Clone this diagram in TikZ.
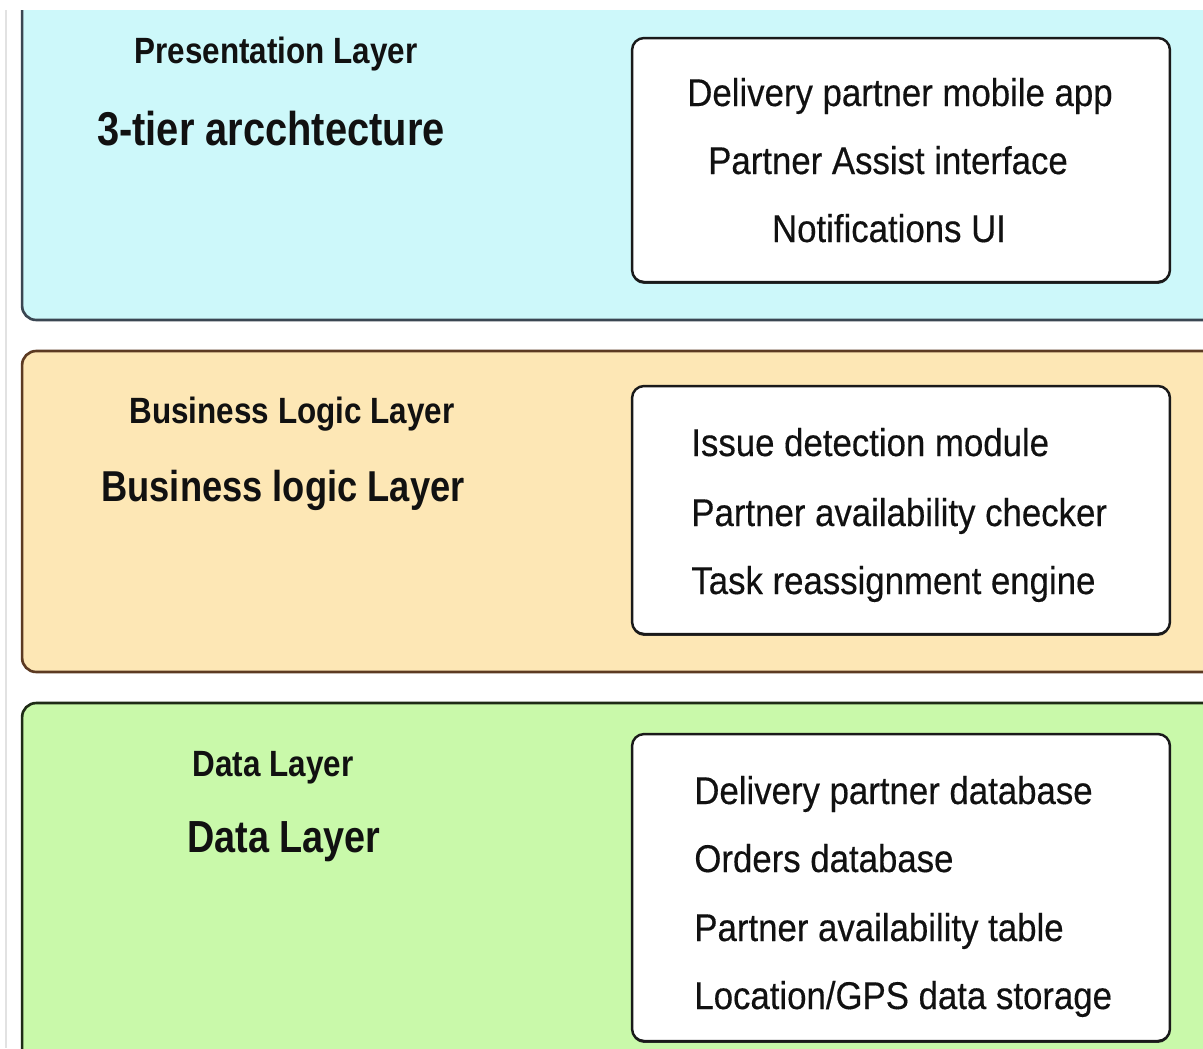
\documentclass[tikz,border=0pt]{standalone}
\usepackage{fontspec}
\usetikzlibrary{shadows}
\setmainfont{Liberation Sans}
\newfontfamily\itemfont{Liberation Sans}[FakeStretch=0.9, FakeBold=0.35]
\newfontfamily\headfont{Liberation Sans}[FakeStretch=0.86]
\newfontfamily\titlefont{Liberation Sans}[FakeStretch=0.84]

\definecolor{cyanfill}{HTML}{CDF8FA}
\definecolor{cyanedge}{HTML}{3A4652}
\definecolor{orangefill}{HTML}{FDE7B5}
\definecolor{orangeedge}{HTML}{5C3A22}
\definecolor{greenfill}{HTML}{C9F9AA}
\definecolor{greenedge}{HTML}{1E2B16}
\definecolor{boxedge}{HTML}{1A1A1A}
\definecolor{inktext}{HTML}{111111}
\definecolor{pagerule}{HTML}{E2E2E2}

\tikzset{
  layerbox/.style={rectangle, rounded corners=0.28cm, line width=1.5pt,
    minimum width=24.36cm, inner sep=0pt},
  itembox/.style={rectangle, rounded corners=0.24cm, line width=1.4pt,
    draw=boxedge, fill=white, minimum width=10.76cm, inner sep=0pt,
    drop shadow={shadow xshift=0pt, shadow yshift=-1.1pt,
      fill=boxedge, opacity=0.9}},
  headlabel/.style={anchor=base, inner sep=0pt, text=inktext,
    font=\headfont\bfseries\fontsize{20.8}{25}\selectfont},
  titlelabel/.style={anchor=base, inner sep=0pt, text=inktext,
    font=\titlefont\bfseries\fontsize{25.6}{31}\selectfont},
  itemtext/.style={inner sep=0pt, text=inktext,
    font=\itemfont\fontsize{22}{26}\selectfont},
  itemleft/.style={itemtext, anchor=base west},
  itemmid/.style={itemtext, anchor=base},
}

\begin{document}
\begin{tikzpicture}[x=0.02cm, y=-0.02cm]
\useasboundingbox (0,0) rectangle (1203,1048);
\fill[white] (0,0) rectangle (1203,1048);
\draw[pagerule, line width=1pt] (6,10) -- (6,1048);

% the three tiers, running off the top, right and bottom edges
\begin{scope}
  \clip (0,10) rectangle (1203,1048);
  \node[layerbox, draw=cyanedge, fill=cyanfill, minimum height=7.2cm]
    (presentation) at (631,140) {};
  \node[layerbox, draw=orangeedge, fill=orangefill, minimum height=6.42cm]
    (business) at (631,511.5) {};
  \node[layerbox, draw=greenedge, fill=greenfill, minimum height=7.94cm]
    (data) at (631,901.5) {};
\end{scope}

% component boxes
\node[itembox, minimum height=4.88cm] (presbox) at (901,160) {};
\node[itembox, minimum height=4.96cm] (busbox)  at (901,510) {};
\node[itembox, minimum height=6.14cm] (databox) at (901,887.5) {};

% presentation tier
\node[headlabel]  (preshead)  at (276,63)  {Presentation Layer};
\node[titlelabel, font=\titlefont\bfseries\fontsize{27}{32}\selectfont]
  (prestitle) at (271,145) {3-tier arcchtecture};
\node[itemmid] (app)    at (900,106) {Delivery partner mobile app};
\node[itemmid] (assist) at (888,174) {Partner Assist interface};
\node[itemmid] (notify) at (889,242) {Notifications UI};

% business logic tier
\node[headlabel]  (bushead)  at (292,423) {Business Logic Layer};
\node[titlelabel, font=\titlefont\bfseries\fontsize{24.6}{30}\selectfont]
  (bustitle) at (283,501) {Business logic Layer};
\node[itemleft] (issue)    at (691,456) {Issue detection module};
\node[itemleft] (checker)  at (691,526) {Partner availability checker};
\node[itemleft] (reassign) at (691,594) {Task reassignment engine};

% data tier
\node[headlabel]  (datahead)  at (273,776) {Data Layer};
\node[titlelabel] (datatitle) at (284,852) {Data Layer};
\node[itemleft] (partnerdb) at (694,804)  {Delivery partner database};
\node[itemleft] (ordersdb)  at (694,872)  {Orders database};
\node[itemleft] (availtab)  at (694,941)  {Partner availability table};
\node[itemleft] (gpsstore)  at (694,1009) {Location/GPS data storage};
\end{tikzpicture}
\end{document}
